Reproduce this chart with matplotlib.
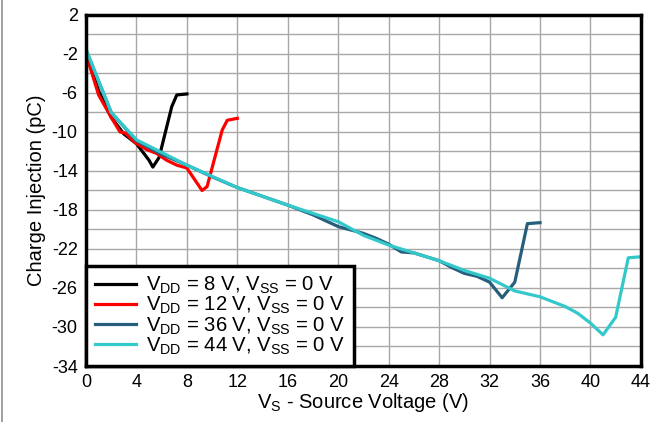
import matplotlib
matplotlib.use('Agg')
import matplotlib.pyplot as plt
from matplotlib.lines import Line2D

plt.rcParams['font.family'] = ['Liberation Sans', 'DejaVu Sans']
plt.rcParams['mathtext.default'] = 'regular'
plt.rcParams['axes.unicode_minus'] = False

# ===> data
vs_8 = [0, 1, 2, 3, 4, 5, 5.3, 5.8, 6.8, 7.2, 8]
qinj_8 = [-1.9, -5.8, -8.5, -10.2, -11.2, -12.9, -13.6, -12.6, -7.4, -6.2, -6.1]

vs_12 = [0, 1, 2, 2.7, 3.1, 3.9, 4.8, 5.6, 6.4, 7.2, 8.0, 9.2, 9.6, 10.8, 11.2, 12]
qinj_12 = [-2.0, -6.2, -8.5, -10.0, -10.1, -11.1, -11.8, -12.2, -12.9, -13.4, -13.7,
           -16.0, -15.6, -9.8, -8.8, -8.6]

vs_36 = [0, 2, 4, 6, 8, 10, 12, 14, 16, 18, 20, 22, 23, 24, 25, 26, 27, 28, 29, 30,
         31, 32, 33, 34, 35, 36]
qinj_36 = [-1.6, -8.0, -10.9, -12.3, -13.4, -14.6, -15.7, -16.6, -17.5, -18.5, -19.7,
           -20.4, -20.9, -21.5, -22.3, -22.4, -22.8, -23.2, -23.9, -24.5, -24.8, -25.4,
           -27.0, -25.4, -19.4, -19.3]

vs_44 = [0, 2, 4, 8, 12, 16, 20, 22, 24, 28, 30, 32, 34, 36, 38, 39, 40, 41, 42, 43, 44]
qinj_44 = [-1.5, -8.0, -10.8, -13.4, -15.7, -17.5, -19.2, -20.6, -21.6, -23.2, -24.2,
           -25.0, -26.3, -26.9, -27.9, -28.6, -29.6, -30.8, -29.0, -22.9, -22.8]

labels = [r'V$_{DD}$ = 8 V, V$_{SS}$ = 0 V',
          r'V$_{DD}$ = 12 V, V$_{SS}$ = 0 V',
          r'V$_{DD}$ = 36 V, V$_{SS}$ = 0 V',
          r'V$_{DD}$ = 44 V, V$_{SS}$ = 0 V']
colors = ['#000000', '#FF0000', '#275E7C', '#33C9CB']

xticks = list(range(0, 45, 4))
yticks = list(range(-34, 3, 4))

# ===> plot
fig = plt.figure(figsize=(6.58, 4.22), dpi=100)
ax = fig.add_axes([0.1307, 0.1327, 0.8433, 0.8318])

series = [(vs_8, qinj_8), (vs_12, qinj_12), (vs_36, qinj_36), (vs_44, qinj_44)]
for (x, y), lab, c in zip(series, labels, colors):
    ax.plot(x, y, color=c, lw=2.3, label=lab)

ax.set_xlim(0, 44)
ax.set_ylim(-34, 2)
ax.set_xticks(xticks)
ax.set_yticks(yticks)
ax.set_yticks(list(range(-32, 2, 4)), minor=True)
ax.grid(True, which='both', color='#A8A8A8', lw=1.0)
ax.set_axisbelow(True)
ax.tick_params(which='both', length=0, labelsize=13, pad=6)

for s in ax.spines.values():
    s.set_linewidth(2.5)
    s.set_color('black')

ax.set_xlabel(r'V$_{S}$ - Source Voltage (V)', fontsize=14.5, labelpad=0)
ax.set_ylabel('Charge Injection (pC)', fontsize=14.5, labelpad=4)

leg = ax.legend(loc='lower left', fontsize=14.6, frameon=True, fancybox=False,
                framealpha=1, borderaxespad=0, handlelength=2.0, labelspacing=-0.05,
                borderpad=0.45, handletextpad=0.5)
leg.get_frame().set_edgecolor('black')
leg.get_frame().set_linewidth(2.5)
for h in leg.get_lines():
    h.set_linewidth(2.3)

# gray border line at the left edge of the image
fig.add_artist(Line2D([0.0025, 0.0025], [0, 1], color='#909090', lw=1.2,
                      transform=fig.transFigure))

fig.savefig('out.png', dpi=100)
